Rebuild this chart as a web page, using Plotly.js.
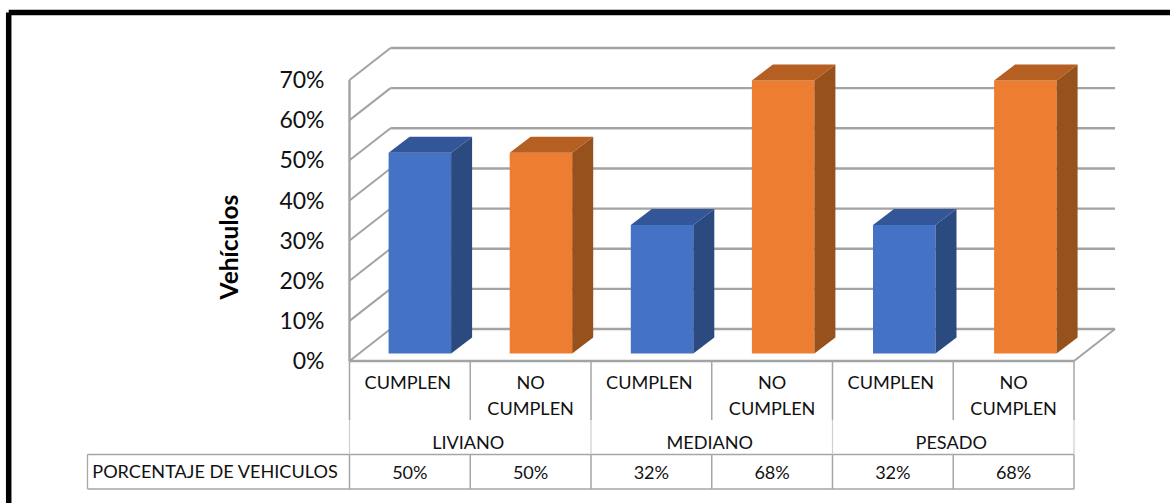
<!DOCTYPE html>
<html>
<head>
<meta charset="utf-8">
<script src="https://cdn.plot.ly/plotly-3.0.1.min.js"></script>
<style>html,body{margin:0;padding:0;background:#fff;overflow:hidden}#chart{width:1170px;height:503px}</style>
</head>
<body>
<div id="chart"></div>
<script>
// Vehicle compliance by class, drawn as a 3-D style column chart with a data table below.
const groups = ['LIVIANO', 'MEDIANO', 'PESADO'];
const categories = ['CUMPLEN', 'NO CUMPLEN', 'CUMPLEN', 'NO CUMPLEN', 'CUMPLEN', 'NO CUMPLEN'];
const percentages = [0.50, 0.50, 0.32, 0.68, 0.32, 0.68];
const yTicks = [0, 0.1, 0.2, 0.3, 0.4, 0.5, 0.6, 0.7];
const rowLabel = 'PORCENTAJE DE VEHICULOS';
const yTitle = 'Vehículos';

// Scales: one x unit is one category, one y unit is 100 %.
const W = 1170, H = 503, MB = 9;
const X0 = 349.5, Y0 = 361, XU = 120.75, YU = 401.4;
const toX = px => (px - X0) / XU;
const toY = py => (Y0 - py) / YU;

// Oblique projection offsets.
const wallDX = 41 / XU, wallDY = 32 / YU;      // front plane to back wall
const gapDX = 10 / XU, gapDY = 7.6 / YU;       // front plane to column front
const depthDX = 21 / XU, depthDY = 16 / YU;    // column depth
const barW = 62.5 / XU, barPitch = 121.1 / XU;
const nCat = categories.length;
const centers = categories.map((_, i) => (i + 0.5) * barPitch + gapDX - 0.2 / XU);

const GRID = '#a3a3a3', TABLE = '#a6a6a6', TEXT = '#111111';
const FONT = 'Lato, Carlito, sans-serif';

const shapes = [];
const seg = (x0, y0, x1, y1, color, width) => shapes.push({
  type: 'line', layer: 'below', xref: 'x', yref: 'y', x0, y0, x1, y1,
  line: {color, width}
});

// Walls and floor
yTicks.forEach(v => {
  seg(0, v, wallDX, v + wallDY, GRID, 2);
  seg(wallDX, v + wallDY, nCat + wallDX, v + wallDY, GRID, 2.4);
});
seg(0, 0, 0, yTicks[yTicks.length - 1], GRID, 2.4);
seg(0, 0, nCat, 0, GRID, 2.4);
seg(nCat, 0, nCat + wallDX, wallDY, GRID, 2);

// Data table rules
const rowTop = toY(361), rowCat = toY(420), rowGroup = toY(454.5), rowVal = toY(489);
const tableLeft = toX(87.5);
seg(tableLeft, rowGroup, nCat, rowGroup, TABLE, 1.3);
seg(tableLeft, rowVal, nCat, rowVal, TABLE, 1.3);
seg(tableLeft, rowGroup, tableLeft, rowVal, TABLE, 1.3);
for (let i = 0; i <= nCat; i++) {
  seg(i, rowTop, i, rowCat, TABLE, 1.5);
  if (i % 2 === 0) seg(i, rowCat, i, rowGroup, '#cfcfcf', 1.2);
  seg(i, rowGroup, i, rowVal, TABLE, 1.5);
}

// Frame round the whole figure (paper coordinates, plot area is H - MB tall)
const frameX = 8.7 / W, frameTop = 1 - 12.4 / (H - MB);
shapes.push({type: 'line', xref: 'paper', yref: 'paper', x0: frameX, x1: 1, y0: frameTop, y1: frameTop,
  line: {color: '#000', width: 5.5}});
shapes.push({type: 'line', xref: 'paper', yref: 'paper', x0: frameX, x1: frameX, y0: frameTop, y1: -MB / (H - MB),
  line: {color: '#000', width: 5.5}});

// Column faces, built from each value
function polys(idx, corners) {
  const xs = [], ys = [];
  idx.forEach(i => {
    corners(centers[i], percentages[i] + gapDY).forEach(p => { xs.push(p[0]); ys.push(p[1]); });
    xs.push(null); ys.push(null);
  });
  return {xs, ys};
}
const sideFace = (c, top) => [
  [c + barW / 2, gapDY], [c + barW / 2 + depthDX, gapDY + depthDY],
  [c + barW / 2 + depthDX, top + depthDY], [c + barW / 2, top]
];
const topFace = (c, top) => [
  [c - barW / 2, top], [c + barW / 2, top],
  [c + barW / 2 + depthDX, top + depthDY], [c - barW / 2 + depthDX, top + depthDY]
];
function faceTrace(p, color) {
  return {type: 'scatter', mode: 'lines', x: p.xs, y: p.ys, fill: 'toself', fillcolor: color,
    line: {width: 0, color}, hoverinfo: 'skip', showlegend: false};
}
function series(idx, front, side, top) {
  return [
    {type: 'bar', x: idx.map(i => centers[i]), y: idx.map(i => percentages[i]), base: gapDY, width: barW,
      marker: {color: front, line: {width: 0}}, hoverinfo: 'skip', showlegend: false},
    faceTrace(polys(idx, sideFace), side),
    faceTrace(polys(idx, topFace), top)
  ];
}
const evens = [0, 2, 4], odds = [1, 3, 5];

// Data table text
const tx = [], ty = [], tt = [];
const put = (x, py, s) => { tx.push(x); ty.push(toY(py)); tt.push(s); };
categories.forEach((c, i) => {
  const lines = c.split(' ');
  const cx = i + 0.5 + (lines.length === 1 ? -2 / XU : 0);
  lines.forEach((l, k) => put(cx, 384.5 + 26 * k, l));
  put(i + 0.5, 474.5, Math.round(percentages[i] * 100) + '%');
});
groups.forEach((g, i) => put(2 * i + 1 - 2 / XU, 444, g));
put(toX(215), 473.5, rowLabel);

const traces = [
  ...series(evens, '#4472C4', '#2B4A80', '#325698'),
  ...series(odds, '#ED7D31', '#97511C', '#B55F22'),
  {type: 'scatter', mode: 'text', x: tx, y: ty, text: tt, textposition: 'middle center',
    textfont: {family: FONT, size: 18.1, color: TEXT}, hoverinfo: 'skip', showlegend: false}
];

const layout = {
  width: W, height: H,
  margin: {l: 0, r: 0, t: 0, b: MB, pad: 0},
  paper_bgcolor: '#fff', plot_bgcolor: '#fff',
  showlegend: false, hovermode: false, barmode: 'overlay',
  font: {family: FONT, color: TEXT},
  xaxis: {range: [toX(0), toX(W)], visible: false, fixedrange: true},
  yaxis: {
    range: [toY(H - MB), toY(0)], anchor: 'free', position: X0 / W,
    tickmode: 'array', tickvals: yTicks, ticktext: yTicks.map(v => Math.round(v * 100) + '%'),
    tickfont: {family: FONT, size: 23, color: TEXT},
    ticks: '', showgrid: false, zeroline: false, showline: false,
    ticklabelstandoff: 25, ticklabelshift: 1.5,
    title: {text: '<b>' + yTitle + '</b>', font: {family: FONT, size: 24.5, color: '#000'}, standoff: 32},
    fixedrange: true
  },
  shapes
};
Plotly.newPlot('chart', traces, layout, {displayModeBar: false, staticPlot: true});
</script>
</body>
</html>
